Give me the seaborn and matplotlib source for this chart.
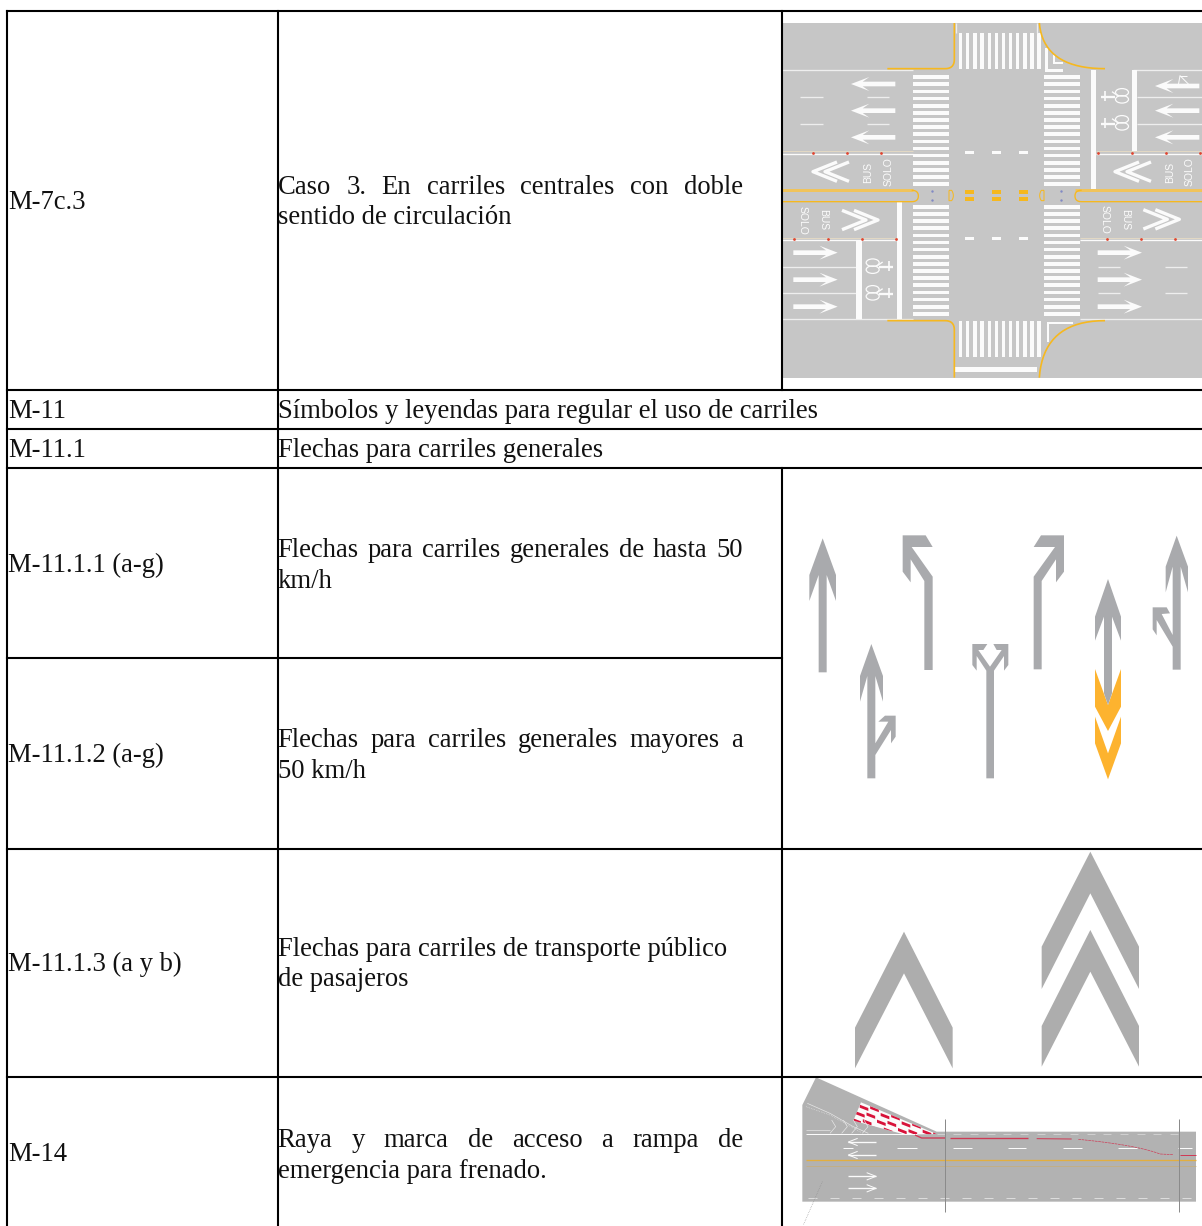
import numpy as np
import pandas as pd
import matplotlib.pyplot as plt
from matplotlib.patches import Polygon, Ellipse
import seaborn as sns

# table text
row_codes = ["M-7c.3", "M-11", "M-11.1", "M-11.1.1 (a-g)", "M-11.1.2 (a-g)", "M-11.1.3 (a y b)", "M-14"]
code_baselines = [209, 418, 457, 572, 762, 971, 1161]
plain_rows = [("Símbolos y leyendas para regular el uso de carriles", 418),
              ("Flechas para carriles generales", 457)]
# first line is justified, second is not
desc_rows = [("Caso 3. En carriles centrales con doble", "sentido de circulación", 194, True),
             ("Flechas para carriles generales de hasta 50", "km/h", 557, True),
             ("Flechas para carriles generales mayores a", "50 km/h", 747, True),
             ("Flechas para carriles de transporte público", "de pasajeros", 956, False),
             ("Raya y marca de acceso a rampa de", "emergencia para frenado.", 1147, True)]

# table rules: x0, x1, y0, y1
rules = [(7, 1202, 11, 11), (7, 1202, 390, 390), (7, 1202, 429, 429), (7, 1202, 468, 468),
         (7, 782, 658, 658), (7, 1202, 849, 849), (7, 1202, 1077, 1077),
         (7, 7, 11, 1226), (278, 278, 11, 1226), (782, 782, 11, 390), (782, 782, 468, 1226)]

GREY = "#c6c6c6"
ARROW = "#a9aaad"
AMBER = "#fdb32f"
CHEV = "#adadad"
ROAD = "#b2b2b2"
WHITE = "#fbfbfb"
KERB = "#f6b81f"

sns.set_theme(style="white")
plt.rcParams["font.family"] = ["Liberation Serif", "DejaVu Serif"]

fig = plt.figure(figsize=(12.02, 12.26), dpi=100)
ax = fig.add_axes([0, 0, 1, 1])
ax.set_xlim(0, 1202)
ax.set_ylim(1226, 0)
ax.axis("off")


def poly(pts, color, off, z=2, **kw):
    xy = [(off[0] + x / 3, off[1] + y / 3) for x, y in pts]
    p = Polygon(xy, closed=True, fc=color, ec="none", zorder=z, **kw)
    ax.add_patch(p)
    return p


def line(pts, color, lw, off, z=3, **kw):
    ax.plot([off[0] + p[0] / 3 for p in pts], [off[1] + p[1] / 3 for p in pts],
            color=color, lw=lw * 0.24, zorder=z, solid_capstyle="butt", **kw)


def bez(a, c, b, n=20):
    t = np.linspace(0, 1, n)[:, None]
    a, c, b = np.array(a), np.array(c), np.array(b)
    return ((1 - t) ** 2 * a + 2 * t * (1 - t) * c + t ** 2 * b).tolist()


def box(x0, x1, y0, y1, color, off, z=3):
    poly([(x0, y0), (x1, y0), (x1, y1), (x0, y1)], color, off, z=z)


# ---------- crossing picture ----------
A = (780, 10)
box(6, 1266, 39, 1103, GREY, A, z=1)

for y in np.arange(196, 530, 21.4):
    box(399, 507, y, y + 11, WHITE, A)
    box(793, 900, y, y + 11, WHITE, A)
for y in np.arange(585, 920, 21.4):
    box(399, 507, y, y + 11, WHITE, A)
    box(793, 900, y, y + 11, WHITE, A)
for x in np.arange(537, 785, 21.4):
    box(x, x + 10, 70, 178, WHITE, A)
    box(x, x + 10, 932, 1040, WHITE, A)

# kerbs
kerb_lines = [
    [(322, 176), (495, 176)] + bez((495, 176), (523, 176), (523, 148)) + [(523, 39)],
    bez((778, 39), (790, 176), (975, 176)),
    [(322, 932), (495, 932)] + bez((495, 932), (523, 932), (523, 960)) + [(523, 1103)],
    bez((778, 1103), (790, 932), (975, 932)),
]
for k in kerb_lines:
    line(k, KERB, 5, A, z=4)

# lane edges
for seg in [[(6, 181), (400, 181)], [(1060, 181), (1266, 181)], [(6, 927), (400, 927)], [(900, 927), (1266, 927)],
            [(1070, 262), (1266, 262)], [(1070, 342), (1266, 342)], [(6, 770), (228, 770)], [(6, 849), (228, 849)],
            [(60, 262), (128, 262)], [(262, 262), (328, 262)], [(60, 342), (128, 342)], [(262, 342), (328, 342)],
            [(953, 770), (1020, 770)], [(1155, 770), (1222, 770)], [(953, 849), (1020, 849)], [(1155, 849), (1222, 849)],
            [(527, 39), (527, 70)], [(771, 39), (771, 70)]]:
    line(seg, "#eeeeee", 4, A)
for x0, x1, y0, y1 in [(932, 947, 180, 538), (350, 367, 575, 928), (1055, 1070, 181, 423), (228, 245, 690, 928),
                       (525, 772, 1072, 1087), (800, 807, 935, 995), (800, 880, 935, 941),
                       (795, 803, 115, 185), (795, 850, 178, 185), (818, 825, 135, 160), (818, 850, 155, 162)]:
    box(x0, x1, y0, y1, WHITE, A)

# bus lane separators with red studs
for seg in [[(6, 424), (400, 424)], [(948, 424), (1266, 424)], [(6, 683), (350, 683)], [(900, 683), (1266, 683)]]:
    line(seg, "#e2d8c4", 3, A)
for seg in [[(6, 431), (400, 431)], [(948, 431), (1266, 431)], [(6, 689), (350, 689)], [(900, 689), (1266, 689)]]:
    line(seg, WHITE, 4, A)
studs = [(x, 428) for x in (100, 201, 303, 953, 1055, 1157, 1259)] + [(x, 686) for x in (42, 143, 245, 347, 981, 1083, 1185)]
ax.scatter([A[0] + x / 3 for x, y in studs], [A[1] + y / 3 for x, y in studs], s=4, color="#e0442f", linewidths=0, zorder=5)

# median
line([(6, 539), (400, 539)], "#f0c35a", 9, A)
line([(885, 539), (1266, 539)], "#f0c35a", 9, A)
line([(6, 575), (395, 575)] + bez((395, 575), (415, 575), (415, 558)) + bez((415, 558), (415, 541), (395, 541)), KERB, 4, A, z=4)
line([(1266, 575), (905, 575)] + bez((905, 575), (885, 575), (885, 558)) + bez((885, 558), (885, 541), (905, 541)), KERB, 4, A, z=4)

for x in (555, 635, 716):
    box(x, x + 28, 422, 433, WHITE, A)
    box(x, x + 28, 680, 691, WHITE, A)
    box(x, x + 28, 541, 552, KERB, A)
    box(x, x + 28, 562, 573, KERB, A)
line([(507, 541), (515, 541)] + bez((515, 541), (525, 557), (515, 572)) + [(507, 572), (507, 541)], KERB, 3, A)
line([(792, 541), (784, 541)] + bez((784, 541), (774, 557), (784, 572)) + [(792, 572), (792, 541)], KERB, 3, A)
dots = [(457, 543), (457, 569), (842, 543), (842, 569)]
ax.scatter([A[0] + x / 3 for x, y in dots], [A[1] + y / 3 for x, y in dots], s=3, color="#8189c4", linewidths=0, zorder=5)


def lane_arrow(tail, tip, y):
    d = 1 if tip > tail else -1
    poly([(tip, y), (tip - d * 55, y - 21), (tip - d * 35, y - 7), (tail, y - 7),
          (tail, y + 7), (tip - d * 35, y + 7), (tip - d * 55, y + 21)], WHITE, A)


for y in (222, 302, 382):
    lane_arrow(346, 213, y)
for y in (228, 302, 382):
    lane_arrow(1258, 1125, y)
for y in (728, 809, 890):
    lane_arrow(40, 173, y)
    lane_arrow(953, 1086, y)
line([(1195, 225), (1200, 197), (1228, 225)], WHITE, 3, A)
line([(1200, 197), (1222, 197)], WHITE, 3, A)


def chevrons(x, y, d):
    for s in (0, 36):
        apex = x + d * s
        line([(apex + d * 72, y - 29), (apex, y), (apex + d * 72, y + 29)], WHITE, 10, A)


chevrons(99, 485, 1)
chevrons(1005, 485, 1)
chevrons(294, 630, -1)
chevrons(1198, 628, -1)

for x, y, rot, word in [(265, 486, 90, "BUS"), (325, 486, 90, "SOLO"), (1170, 486, 90, "BUS"), (1230, 486, 90, "SOLO"),
                        (128, 630, 270, "BUS"), (68, 630, 270, "SOLO"), (1034, 630, 270, "BUS"), (974, 628, 270, "SOLO")]:
    ax.text(A[0] + x / 3, A[1] + y / 3, word, color=WHITE, rotation=rot, ha="center", va="center",
            fontsize=7.5, family="Liberation Sans", zorder=5)


def bike(cx, cy, d):
    # wheels are flat ellipses stacked across the lane, body sits beside them
    for dy in (-10, 11):
        ax.add_patch(Ellipse((A[0] + cx / 3, A[1] + (cy + dy) / 3), 13, 7.5, fc="none", ec=WHITE, lw=0.9, zorder=5))
    line([(cx + d * 62, cy + 4), (cx + d * 20, cy + 4)], WHITE, 7, A, z=5)
    line([(cx + d * 50, cy - 14), (cx + d * 50, cy + 16)], WHITE, 5, A, z=5)
    line([(cx + d * 30, cy - 12), (cx + d * 10, cy + 2)], WHITE, 4, A, z=5)


for cx, cy, d in [(1026, 257, -1), (1026, 338, -1), (278, 768, 1), (278, 848, 1)]:
    bike(cx, cy, d)

# ---------- arrows picture ----------
B = (780, 520)
arrow_shapes = [
    [(128, 55), (168, 165), (168, 243), (140, 165), (140, 457), (116, 457), (116, 165), (88, 243), (88, 165)],
    [(368, 46), (437, 46), (458, 81), (395, 81), (458, 170), (458, 450), (433, 450), (433, 183), (392, 118), (392, 187), (368, 155)],
    [(852, 46), (783, 46), (761, 81), (825, 81), (761, 170), (761, 448), (785, 448), (785, 183), (828, 118), (828, 187), (852, 155)],
    [(274, 372), (309, 468), (309, 545), (286, 468), (286, 670), (325, 605), (295, 605), (315, 587), (347, 587), (347, 650), (333, 670),
     (333, 630), (286, 705), (286, 775), (262, 775), (262, 468), (240, 545), (240, 468)],
    [(619, 775), (619, 452), (590, 408), (590, 452), (577, 435), (577, 372), (622, 372), (610, 390), (595, 390), (630, 440), (665, 390),
     (650, 390), (640, 372), (685, 372), (685, 435), (672, 452), (672, 408), (642, 452), (642, 775)],
    [(1190, 47), (1224, 140), (1224, 217), (1202, 140), (1202, 449), (1178, 449), (1178, 380), (1130, 300), (1130, 346), (1118, 328),
     (1118, 262), (1160, 262), (1170, 280), (1145, 282), (1178, 345), (1178, 140), (1157, 217), (1157, 140)],
]
for s in arrow_shapes:
    poly(s, ARROW, B)
poly([(945, 447), (984, 555), (1023, 447), (1023, 560), (984, 633), (945, 560)], AMBER, B)
poly([(945, 590), (984, 700), (1023, 590), (1023, 670), (984, 778), (945, 670)], AMBER, B)
poly([(984, 177), (1023, 290), (1023, 362), (996, 290), (996, 520), (984, 555), (972, 520), (972, 290), (945, 362), (945, 290)], ARROW, B, z=3)

# ---------- bus chevrons ----------
C = (840, 845)
for s in [[(192, 260), (338, 548), (338, 670), (192, 385), (45, 670), (45, 548)],
          [(751, 20), (897, 305), (897, 432), (751, 145), (605, 432), (605, 305)],
          [(751, 255), (897, 543), (897, 665), (751, 380), (605, 665), (605, 543)]]:
    poly(s, CHEV, C)

# ---------- ramp picture ----------
D = (790, 1070)
poly([(37, 395), (37, 105), (78, 22), (440, 185), (1218, 185), (1218, 395)], ROAD, D, z=1)
check = [(213, 97), (440, 192), (345, 194), (190, 152)]
clip = poly(check, WHITE, D, z=2)
for i in range(0, 4):
    for j in range(0, 8):
        cx = 222 + j * 31.5 - i * 11
        cy = 113 + j * 12.5 - (j % 2) * 9 + i * 20
        p = poly([(cx - 13, cy - 9), (cx + 13, cy + 1), (cx + 13, cy + 10), (cx - 13, cy)], "#d8133a", D, z=3)
        p.set_clip_path(clip)
for x0 in np.arange(440, 1160, 50):
    line([(x0, 193), (x0 + 24, 193)], "#cfcfcf", 3, D)
line([(48, 193), (380, 193)], WHITE, 3, D)
line([(52, 100), (120, 130), (190, 170), (235, 190)], "#e8e8e8", 2, D)
line([(48, 110), (120, 135), (215, 188)], "#e8e8e8", 2, D, ls=":")
for x in (125, 160, 190, 222):
    line([(x, 150), (x + 12, 170), (x - 5, 190)], "#e8e8e8", 2, D)
line([(48, 180), (120, 180)], "#d5d5d5", 3, D)
red = "#cf3a55"
line([(375, 195), (395, 204), (465, 204)], red, 4, D)
line([(480, 204), (715, 204)], red, 4, D)
line([(740, 206), (845, 207)], red, 3, D)
line(bez((865, 208), (1040, 225), (1110, 252)) + [(1150, 254)], red, 2, D, ls=(0, (4, 1)))
line([(1170, 254), (1218, 254)], red, 3, D)
for x0, x1 in [(160, 190), (322, 380), (488, 545), (653, 708), (820, 875), (985, 1040), (1165, 1205)]:
    line([(x0, 235), (x1, 235)], WHITE, 3, D)
line([(48, 271), (1218, 271)], "#e2ae3e", 4, D)
line([(48, 289), (1218, 289)], "#c9ad72", 2, D)
for y, d in [(216, -1), (255, -1), (319, 1), (355, 1)]:
    tip, tail = (258, 175) if d > 0 else (175, 258)
    line([(tail, y), (tip, y)], WHITE, 4, D)
    line([(tip - d * 28, y - 11), (tip, y), (tip - d * 28, y + 11)], WHITE, 3, D)
for x0 in np.arange(55, 1200, 66):
    line([(x0, 383), (x0 + 25, 383)], "#dcdcdc", 3, D)
for x in (465, 1168):
    line([(x, 148), (x, 425)], "#8b8b8b", 3, D, z=4)
line([(97, 335), (40, 465)], "#8f8f8f", 2, D, ls=":")

# ---------- table rules ----------
rule_df = pd.DataFrame(
    [{"rule": i, "x": x, "y": y} for i, (x0, x1, y0, y1) in enumerate(rules) for x, y in ((x0, y0), (x1, y1))]
)
sns.lineplot(data=rule_df, x="x", y="y", units="rule", estimator=None, sort=False, color="black",
             lw=1.5, legend=False, ax=ax, zorder=6, solid_capstyle="projecting")
ax.set_xlim(0, 1202)
ax.set_ylim(1226, 0)
ax.axis("off")

# ---------- text ----------
FS = 19.2
INK = "#111111"
CODE_X = 8
DESC_X = 277.5
renderer = fig.canvas.get_renderer()


def justified(txt, x0, x1, y):
    words = txt.split(" ")
    items = [ax.text(x0, y, w, fontsize=FS, color=INK, va="baseline", zorder=7) for w in words]
    widths = [t.get_window_extent(renderer).width for t in items]
    gap = (x1 - x0 - sum(widths)) / (len(words) - 1)
    x = x0
    for t, w in zip(items, widths):
        t.set_x(x)
        x += w + gap


for code, y in zip(row_codes, code_baselines):
    ax.text(CODE_X, y, code, fontsize=FS, color=INK, va="baseline", zorder=7)
for txt, y in plain_rows:
    ax.text(DESC_X, y, txt, fontsize=FS, color=INK, va="baseline", zorder=7)
for first, second, y, just in desc_rows:
    if just:
        justified(first, DESC_X, 743, y)
    else:
        ax.text(DESC_X, y, first, fontsize=FS, color=INK, va="baseline", zorder=7)
    ax.text(DESC_X, y + 30.5, second, fontsize=FS, color=INK, va="baseline", zorder=7)

fig.savefig("out.png", dpi=100, facecolor="white")
